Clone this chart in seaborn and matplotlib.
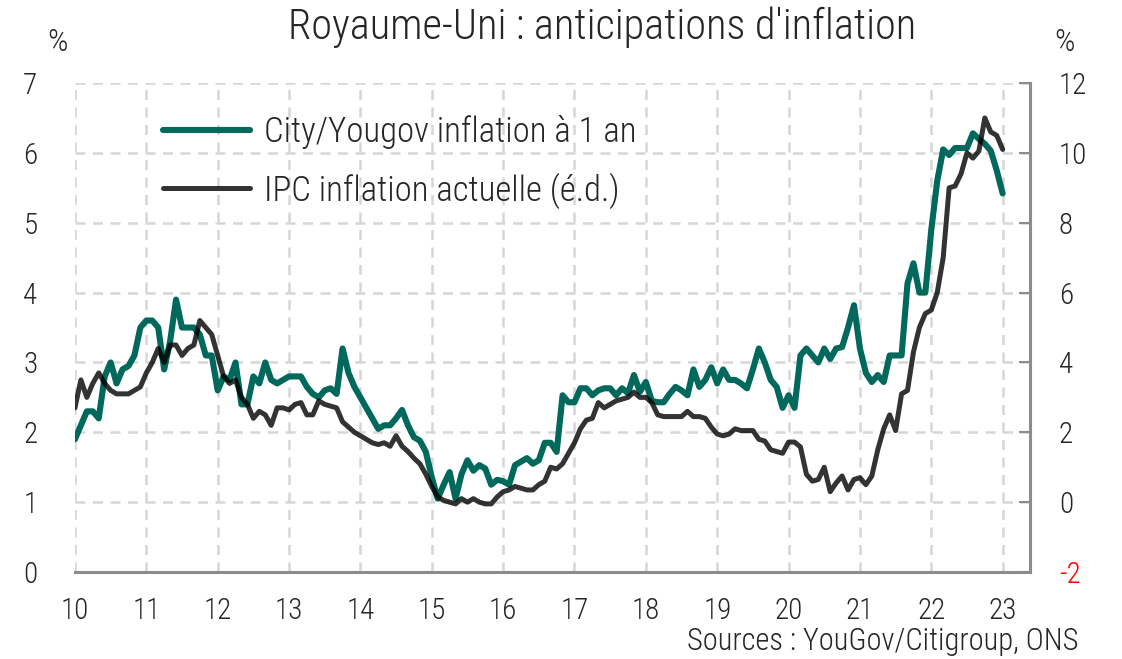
import matplotlib
matplotlib.use("Agg")
import matplotlib.pyplot as plt
import numpy as np
import pandas as pd
import seaborn as sns

# monthly, Jan 2010 .. Jan 2023
yougov = [
    1.9, 2.1, 2.3, 2.3, 2.2, 2.8, 3.0, 2.7, 2.9, 2.95, 3.1, 3.5,
    3.6, 3.6, 3.5, 2.9, 3.3, 3.9, 3.5, 3.5, 3.5, 3.4, 3.1, 3.1,
    2.6, 2.8, 2.75, 3.0, 2.4, 2.4, 2.8, 2.7, 3.0, 2.75, 2.7, 2.75,
    2.8, 2.8, 2.8, 2.65, 2.55, 2.5, 2.6, 2.63, 2.55, 3.2, 2.85, 2.65,
    2.5, 2.35, 2.2, 2.05, 2.1, 2.1, 2.2, 2.32, 2.1, 1.93, 1.88, 1.72,
    1.36, 1.05, 1.25, 1.43, 1.05, 1.4, 1.6, 1.45, 1.53, 1.48, 1.25, 1.32,
    1.3, 1.25, 1.53, 1.58, 1.63, 1.55, 1.6, 1.85, 1.85, 1.72, 2.53, 2.43,
    2.43, 2.63, 2.63, 2.53, 2.6, 2.63, 2.63, 2.53, 2.63, 2.56, 2.82, 2.58,
    2.72, 2.45, 2.43, 2.43, 2.55, 2.65, 2.6, 2.53, 2.9, 2.65, 2.75, 2.93,
    2.7, 2.9, 2.75, 2.75, 2.7, 2.63, 2.9, 3.2, 3.0, 2.75, 2.65, 2.35,
    2.53, 2.35, 3.1, 3.2, 3.1, 3.0, 3.2, 3.05, 3.2, 3.22, 3.5, 3.82,
    3.2, 2.85, 2.72, 2.82, 2.72, 3.1, 3.1, 3.1, 4.13, 4.42, 4.0, 4.0,
    4.9, 5.6, 6.05, 5.97, 6.07, 6.07, 6.07, 6.28, 6.2, 6.13, 6.03, 5.75,
    5.42,
]
ipc = [
    2.7, 3.5, 3.0, 3.4, 3.7, 3.4, 3.2, 3.1, 3.1, 3.1, 3.2, 3.3,
    3.7, 4.0, 4.4, 4.0, 4.5, 4.5, 4.2, 4.4, 4.5, 5.2, 5.0, 4.8,
    4.2, 3.6, 3.4, 3.5, 3.0, 2.8, 2.4, 2.6, 2.5, 2.2, 2.7, 2.7,
    2.64, 2.8, 2.85, 2.5, 2.5, 2.9, 2.8, 2.75, 2.7, 2.3, 2.15, 2.0,
    1.9, 1.8, 1.7, 1.65, 1.7, 1.6, 1.9, 1.6, 1.45, 1.26, 1.1, 0.8,
    0.45, 0.15, 0.05, 0.0, -0.05, 0.1, 0.0, 0.1, 0.0, -0.05, -0.05, 0.15,
    0.3, 0.35, 0.45, 0.4, 0.35, 0.35, 0.5, 0.6, 1.0, 0.95, 1.1, 1.4,
    1.7, 2.1, 2.35, 2.4, 2.85, 2.7, 2.8, 2.9, 2.95, 3.0, 3.15, 3.0,
    3.0, 2.85, 2.5, 2.45, 2.45, 2.45, 2.45, 2.6, 2.45, 2.45, 2.4, 2.15,
    1.95, 1.9, 1.95, 2.1, 2.05, 2.05, 2.05, 1.8, 1.75, 1.5, 1.45, 1.4,
    1.72, 1.72, 1.58, 0.8, 0.6, 0.65, 1.0, 0.3, 0.55, 0.75, 0.35, 0.65,
    0.7, 0.5, 0.75, 1.5, 2.1, 2.5, 2.05, 3.1, 3.2, 4.3, 5.0, 5.4,
    5.5, 6.0, 7.0, 9.0, 9.05, 9.4, 10.0, 9.85, 10.05, 11.0, 10.6, 10.5,
    10.1,
]
years = [10, 11, 12, 13, 14, 15, 16, 17, 18, 19, 20, 21, 22, 23]
left_ticks = [0, 1, 2, 3, 4, 5, 6, 7]
right_ticks = [-2, 0, 2, 4, 6, 8, 10, 12]

df = pd.DataFrame({
    "t": 10 + np.arange(len(yougov)) / 12,
    "yougov": yougov,
    "ipc": ipc,
})

GREEN = "#00695c"
GRID = "#d6d6d6"
AXIS = "#8c8c8c"

sns.set_style("white")
plt.rcParams["font.family"] = ["Roboto Condensed", "Roboto", "DejaVu Sans"]
plt.rcParams["font.weight"] = "light"

fig = plt.figure(figsize=(11.22, 6.59), dpi=100)
ax = fig.add_axes([0.0668, 0.132, 0.851, 0.742])
ax2 = ax.twinx()

sns.lineplot(data=df, x="t", y="yougov", ax=ax, color=GREEN, lw=4.4,
             label="City/Yougov inflation à 1 an", legend=False, zorder=3)
sns.lineplot(data=df, x="t", y="ipc", ax=ax2, color="black", alpha=0.8, lw=3.6,
             label="IPC inflation actuelle (é.d.)", legend=False, zorder=3)

ax.set_xlim(10, 23.38)
ax.set_ylim(0, 7)
ax2.set_ylim(-2, 12)
ax.set_xticks(years)
ax.set_xticklabels([str(y) for y in years])
ax.set_yticks(left_ticks)
ax2.set_yticks(right_ticks)
ax2.set_yticklabels(["-2" if v == -2 else str(v) for v in right_ticks])
ax.set_xlabel("")
ax.set_ylabel("")
ax2.set_ylabel("")

ax.grid(True, color=GRID, linestyle=(0, (4, 3)), lw=1.8)
ax.set_axisbelow(True)

for a in (ax, ax2):
    for s in ("top", "left", "bottom", "right"):
        a.spines[s].set_visible(False)
ax.spines["bottom"].set_visible(True)
ax.spines["bottom"].set_color(AXIS)
ax.spines["bottom"].set_linewidth(2.2)
ax2.spines["right"].set_visible(True)
ax2.spines["right"].set_color(AXIS)
ax2.spines["right"].set_linewidth(2.2)

ax.tick_params(axis="x", direction="out", length=8, width=1.5, color=AXIS,
               labelsize=21, pad=10)
ax.tick_params(axis="y", length=0, labelsize=21, pad=27)
ax2.tick_params(axis="y", direction="in", length=8, width=1.5, color=AXIS,
                labelsize=21, pad=21)
for lab in ax2.get_yticklabels():
    lab.set_horizontalalignment("left")
    if lab.get_text() == "-2":
        lab.set_color("red")

h1, l1 = ax.get_legend_handles_labels()
h2, l2 = ax2.get_legend_handles_labels()
ax2.legend(h1 + h2, l1 + l2, loc="upper left", bbox_to_anchor=(0.1453, 0.826),
           bbox_transform=fig.transFigure, frameon=False, fontsize=25,
           borderpad=0, borderaxespad=0, handlelength=2.5, handletextpad=0.4,
           labelspacing=0.68)

fig.text(0.5365, 0.958, "Royaume-Uni : anticipations d'inflation", ha="center",
         va="center", fontsize=30.5)
fig.text(0.051, 0.935, "%", ha="center", va="center", fontsize=23)
fig.text(0.949, 0.935, "%", ha="center", va="center", fontsize=23)
fig.text(0.961, 0.027, "Sources : YouGov/Citigroup, ONS", ha="right",
         va="center", fontsize=22)

fig.savefig("out.png", dpi=100)
